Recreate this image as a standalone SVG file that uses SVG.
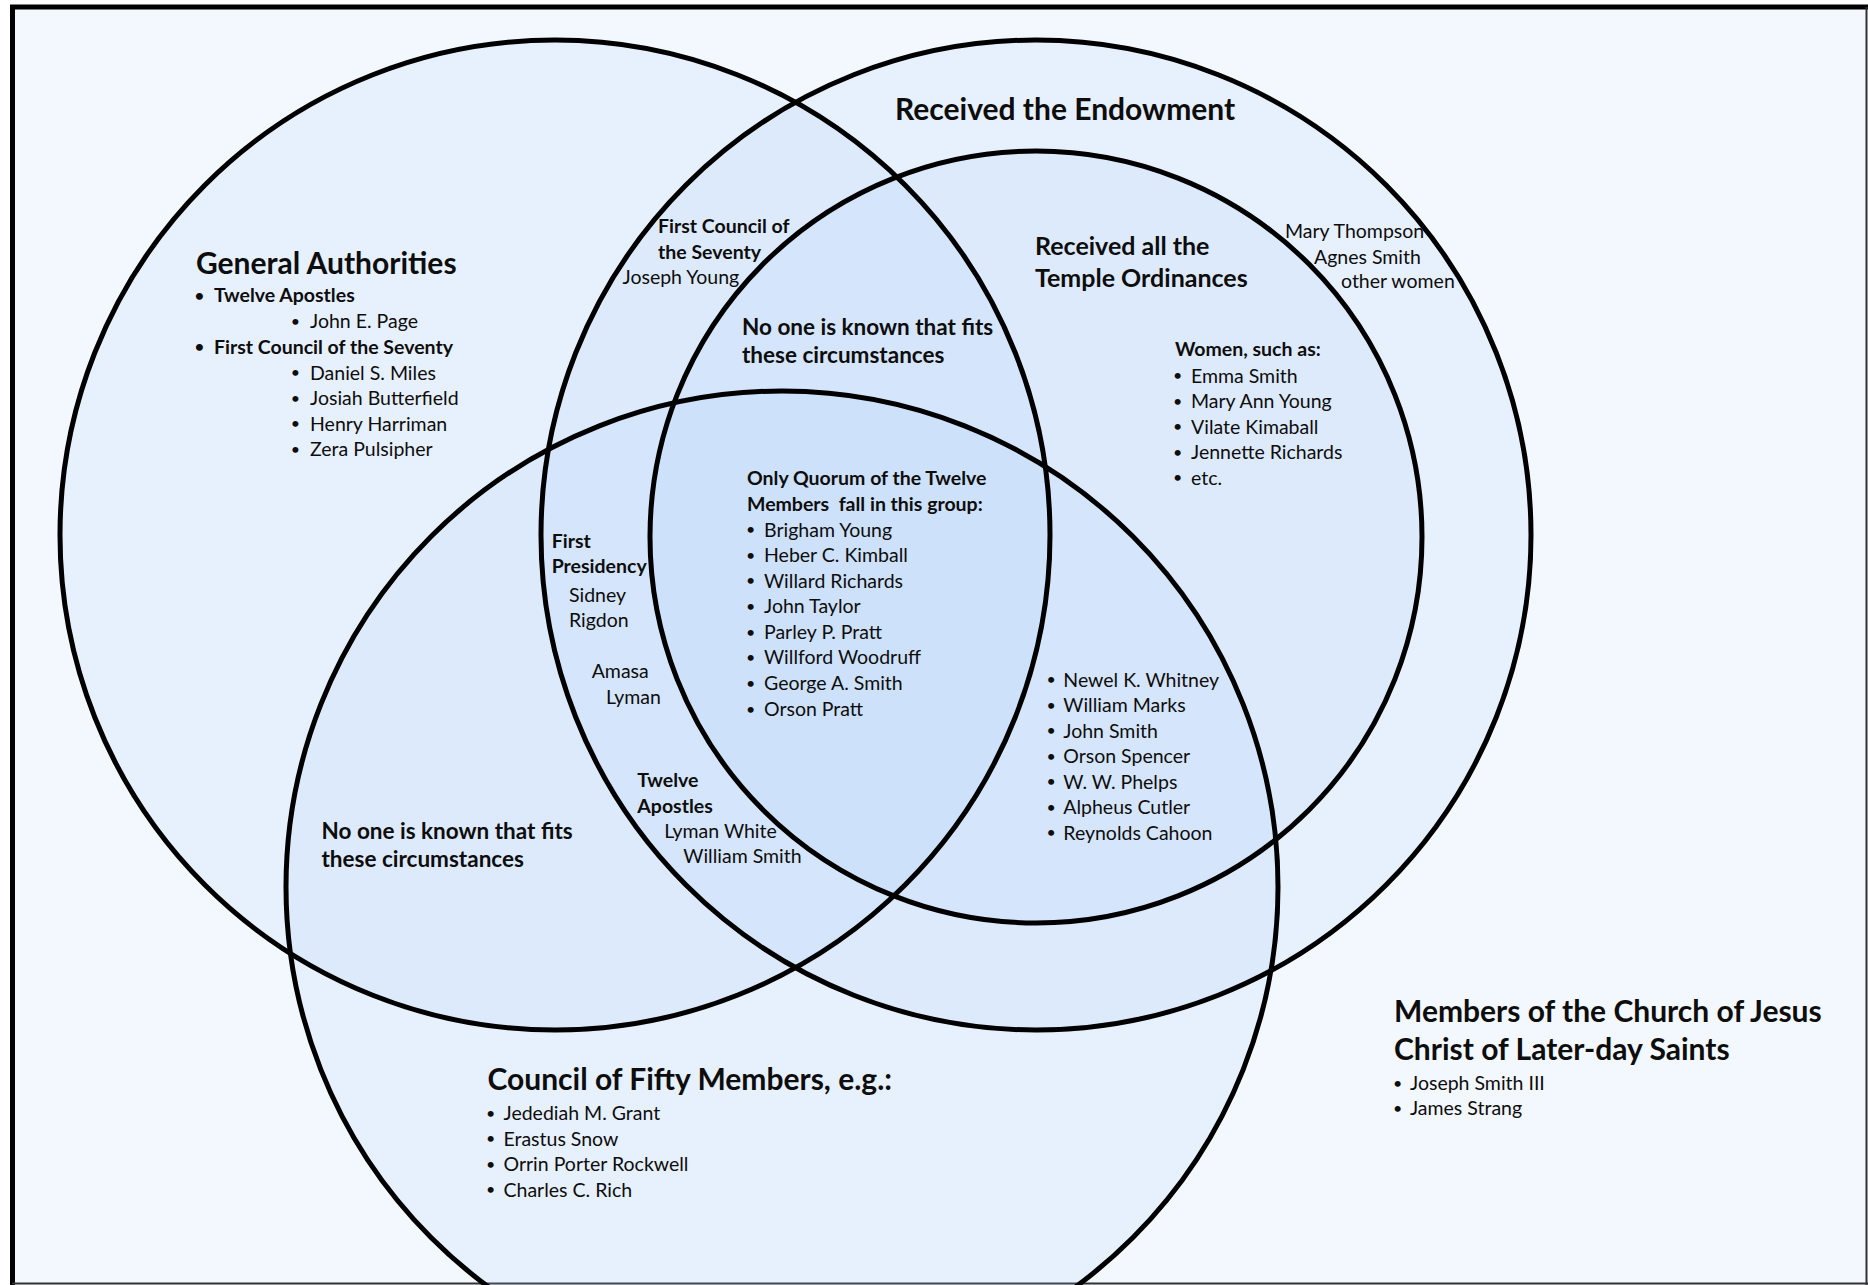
<svg xmlns="http://www.w3.org/2000/svg" width="1868" height="1285" viewBox="0 0 1868 1285">
<style>
text{font-family:Lato,"Open Sans","Liberation Sans",sans-serif;fill:#0d0d0d;}
.t{font-size:19.5px;}
.bu{font-size:16px;}
.b{font-weight:bold;}
.title{font-size:30px;font-weight:bold;}
.mid{font-size:22.5px;font-weight:bold;}
.sub{font-size:25px;font-weight:bold;}
.fill{fill:#aac7fa;fill-opacity:0.15;stroke:none;}
.ring{fill:none;stroke:#000;stroke-width:5;}
</style>
<rect x="0" y="0" width="1868" height="1285" fill="#ffffff"/>
<rect x="12" y="7" width="1856" height="1278" fill="#f3f7fe"/>
<g id="frame">
<line x1="10" y1="7" x2="1868" y2="7" stroke="#000" stroke-width="5"/>
<line x1="12.5" y1="5" x2="12.5" y2="1285" stroke="#000" stroke-width="5"/>
<line x1="1866.5" y1="7" x2="1866.5" y2="1285" stroke="#333" stroke-width="2"/>
<line x1="12" y1="1283.5" x2="1868" y2="1283.5" stroke="#333" stroke-width="2"/>
</g>
<g id="venn-fills">
<circle class="fill" cx="555" cy="535" r="495"/>
<circle class="fill" cx="1036" cy="535" r="495"/>
<circle class="fill" cx="1036" cy="537" r="386"/>
<circle class="fill" cx="782" cy="887" r="496"/>
</g>
<g id="connectors"></g>
<g id="node-general-authorities">
<circle class="ring" cx="555" cy="535" r="495"/>
<text class="title" x="196" y="274">General Authorities</text>
<text class="bu b" x="194.7" y="300.5">•</text><text class="t b" x="214" y="302">Twelve Apostles</text>
<text class="bu" x="290.7" y="326.5">•</text><text class="t" x="310" y="328">John E. Page</text>
<text class="bu b" x="194.7" y="352">•</text><text class="t b" x="214" y="353.5">First Council of the Seventy</text>
<text class="bu" x="290.7" y="378">•</text><text class="t" x="310" y="379.5">Daniel S. Miles</text>
<text class="bu" x="290.7" y="403.5">•</text><text class="t" x="310" y="405">Josiah Butterfield</text>
<text class="bu" x="290.7" y="429">•</text><text class="t" x="310" y="430.5">Henry Harriman</text>
<text class="bu" x="290.7" y="454.5">•</text><text class="t" x="310" y="456">Zera Pulsipher</text>
</g>
<g id="node-received-endowment">
<circle class="ring" cx="1036" cy="535" r="495"/>
<text class="title" x="895" y="120">Received the Endowment</text>
<text class="t" x="1285" y="238">Mary Thompson</text>
<text class="t" x="1314" y="264">Agnes Smith</text>
<text class="t" x="1341" y="288">other women</text>
</g>
<g id="node-temple-ordinances">
<circle class="ring" cx="1036" cy="537" r="386"/>
<text class="sub" x="1035" y="255">Received all the</text>
<text class="sub" x="1035" y="287">Temple Ordinances</text>
<text class="t b" x="1175" y="356">Women, such as:</text>
<text class="bu" x="1173" y="381">•</text><text class="t" x="1191" y="382.5">Emma Smith</text>
<text class="bu" x="1173" y="406.5">•</text><text class="t" x="1191" y="408">Mary Ann Young</text>
<text class="bu" x="1173" y="432">•</text><text class="t" x="1191" y="433.5">Vilate Kimaball</text>
<text class="bu" x="1173" y="457.5">•</text><text class="t" x="1191" y="459">Jennette Richards</text>
<text class="bu" x="1173" y="483">•</text><text class="t" x="1191" y="484.5">etc.</text>
</g>
<g id="node-council-of-fifty">
<circle class="ring" cx="782" cy="887" r="496"/>
<text class="title" x="487.5" y="1090">Council of Fifty Members, e.g.:</text>
<text class="bu" x="486" y="1118.5">•</text><text class="t" x="503.5" y="1120">Jedediah M. Grant</text>
<text class="bu" x="486" y="1144">•</text><text class="t" x="503.5" y="1145.5">Erastus Snow</text>
<text class="bu" x="486" y="1169.5">•</text><text class="t" x="503.5" y="1171">Orrin Porter Rockwell</text>
<text class="bu" x="486" y="1195">•</text><text class="t" x="503.5" y="1196.5">Charles C. Rich</text>
</g>
<g id="region-seventy-endowment">
<text class="t b" x="658" y="233">First Council of</text>
<text class="t b" x="658" y="258.5">the Seventy</text>
<text class="t" x="622.5" y="283.5">Joseph Young</text>
</g>
<g id="region-ga-temple-only">
<text class="mid" x="742" y="334.5">No one is known that fits</text>
<text class="mid" x="742" y="362.5">these circumstances</text>
</g>
<g id="region-all-four">
<text class="t b" x="747" y="485">Only Quorum of the Twelve</text>
<text class="t b" x="747" y="510.5" xml:space="preserve">Members  fall in this group:</text>
<text class="bu" x="746" y="535.2">•</text><text class="t" x="764" y="536.7">Brigham Young</text>
<text class="bu" x="746" y="560.8">•</text><text class="t" x="764" y="562.3">Heber C. Kimball</text>
<text class="bu" x="746" y="586.2">•</text><text class="t" x="764" y="587.7">Willard Richards</text>
<text class="bu" x="746" y="611.8">•</text><text class="t" x="764" y="613.3">John Taylor</text>
<text class="bu" x="746" y="637.5">•</text><text class="t" x="764" y="639">Parley P. Pratt</text>
<text class="bu" x="746" y="662.8">•</text><text class="t" x="764" y="664.3">Willford Woodruff</text>
<text class="bu" x="746" y="688.5">•</text><text class="t" x="764" y="690">George A. Smith</text>
<text class="bu" x="746" y="714.5">•</text><text class="t" x="764" y="716">Orson Pratt</text>
</g>
<g id="region-ga-endowment-fifty">
<text class="t b" x="551.7" y="548.3">First</text>
<text class="t b" x="551.7" y="573.3">Presidency</text>
<text class="t" x="569" y="601.7">Sidney</text>
<text class="t" x="569" y="627.3">Rigdon</text>
<text class="t" x="591.7" y="678.3">Amasa</text>
<text class="t" x="606" y="704">Lyman</text>
<text class="t b" x="637.3" y="787.3">Twelve</text>
<text class="t b" x="637.3" y="813.3">Apostles</text>
<text class="t" x="664.3" y="837.7">Lyman White</text>
<text class="t" x="683.3" y="862.7">William Smith</text>
</g>
<g id="region-temple-fifty">
<text class="bu" x="1046.5" y="685.2">•</text><text class="t" x="1063.3" y="686.7">Newel K. Whitney</text>
<text class="bu" x="1046.5" y="710.7">•</text><text class="t" x="1063.3" y="712.2">William Marks</text>
<text class="bu" x="1046.5" y="736.2">•</text><text class="t" x="1063.3" y="737.7">John Smith</text>
<text class="bu" x="1046.5" y="761.7">•</text><text class="t" x="1063.3" y="763.2">Orson Spencer</text>
<text class="bu" x="1046.5" y="787.2">•</text><text class="t" x="1063.3" y="788.7">W. W. Phelps</text>
<text class="bu" x="1046.5" y="812.7">•</text><text class="t" x="1063.3" y="814.2">Alpheus Cutler</text>
<text class="bu" x="1046.5" y="838.2">•</text><text class="t" x="1063.3" y="839.7">Reynolds Cahoon</text>
</g>
<g id="region-ga-fifty-only">
<text class="mid" x="321.5" y="839">No one is known that fits</text>
<text class="mid" x="321.5" y="866.5">these circumstances</text>
</g>
<g id="node-church-members">
<text class="title" x="1394" y="1021.7">Members of the Church of Jesus</text>
<text class="title" x="1394" y="1060">Christ of Later-day Saints</text>
<text class="bu" x="1393" y="1088.5">•</text><text class="t" x="1410" y="1090">Joseph Smith III</text>
<text class="bu" x="1393" y="1113.5">•</text><text class="t" x="1410" y="1115">James Strang</text>
</g>
</svg>
